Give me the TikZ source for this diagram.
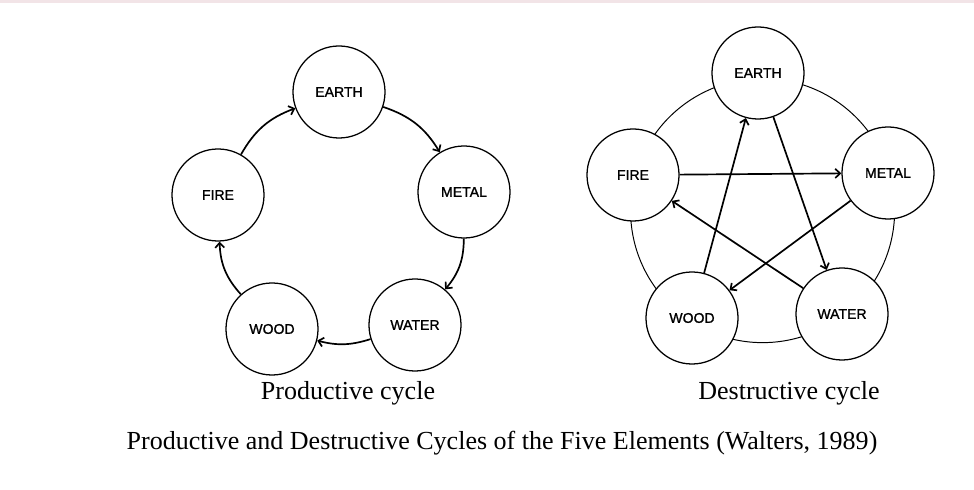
\documentclass[tikz,border=0pt]{standalone}
\usepackage{fontspec}
\setmainfont{Liberation Serif}
\newfontfamily\elemfont[FakeBold=1.2]{Liberation Sans}
\usetikzlibrary{arrows.meta}
\definecolor{topband}{RGB}{242,228,231}

\begin{document}
\begin{tikzpicture}[x=0.025cm, y=-0.025cm,
    elem/.style={circle, draw, fill=white, line width=0.9pt, minimum size=2.3cm, inner sep=0pt, font=\fontsize{10}{11}\selectfont\elemfont},
    flow/.style={line width=1.2pt, -{Straight Barb[length=3.5pt, width=6.5pt]}},
    caption/.style={font=\fontsize{18.5}{21}\selectfont}]
    \useasboundingbox (0,0) rectangle (974,490);
    \fill[topband] (0,0) rectangle (974,3);
    % productive cycle
    \node[elem] (earthP) at (339,92)  {EARTH};
    \node[elem] (metalP) at (464,192) {METAL};
    \node[elem] (waterP) at (415,325) {WATER};
    \node[elem] (woodP)  at (272,329) {WOOD};
    \node[elem] (fireP)  at (218,195) {FIRE};
    \draw[flow] (fireP)  to[bend left=20] (earthP);
    \draw[flow] (earthP) to[bend left=20] (metalP);
    \draw[flow] (metalP) to[bend left=20] (waterP);
    \draw[flow] (waterP) to[bend left=16] (woodP);
    \draw[flow] (woodP)  to[bend left=20] (fireP);
    \node[caption] (capP) at (348,393) {Productive cycle};
    % destructive cycle
    \draw[line width=0.7pt] (762.6,210.6) circle (3.3cm);
    \node[elem] (earthD) at (758,73)  {EARTH};
    \node[elem] (metalD) at (888,173) {METAL};
    \node[elem] (waterD) at (842,314) {WATER};
    \node[elem] (woodD)  at (692,318) {WOOD};
    \node[elem] (fireD)  at (633,175) {FIRE};
    \draw[flow] (earthD) -- (waterD);
    \draw[flow] (waterD) -- (fireD);
    \draw[flow] (fireD)  -- (metalD);
    \draw[flow] (metalD) -- (woodD);
    \draw[flow] (woodD)  -- (earthD);
    \node[caption] (capD) at (789,393) {Destructive cycle};
    \node[caption] (capAll) at (502,443) {Productive and Destructive Cycles of the Five Elements (Walters, 1989)};
\end{tikzpicture}
\end{document}
